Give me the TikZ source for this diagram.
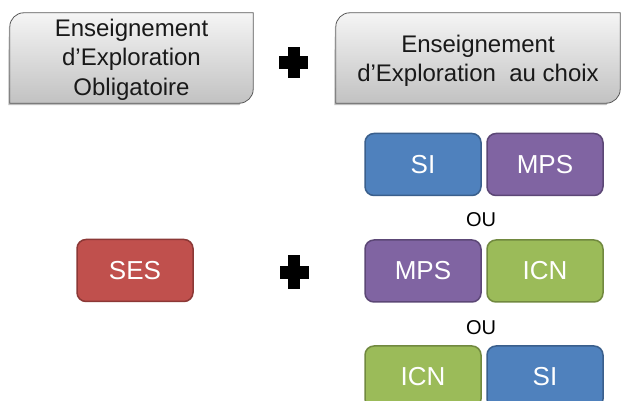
\documentclass[tikz,border=0pt]{standalone}
\usepackage{fontspec}
\setmainfont{Liberation Sans}
\definecolor{siblue}{HTML}{4F81BD}\definecolor{sibd}{HTML}{3A5F8C}
\definecolor{mpsp}{HTML}{8064A2}\definecolor{mpsd}{HTML}{5C4776}
\definecolor{icng}{HTML}{9BBB59}\definecolor{icnd}{HTML}{71893F}
\definecolor{sesr}{HTML}{C0504D}\definecolor{sesd}{HTML}{8C3836}
\begin{document}
\begin{tikzpicture}[x=1pt,y=1pt,
  headbox/.style={minimum height=90pt, inner sep=0pt, align=center, font=\fontsize{24}{29.5}\selectfont, text=black!90},
  colbox/.style={rounded corners=9pt, line width=1.5pt, minimum width=116pt, minimum height=62pt, inner sep=0pt, text=white, font=\fontsize{26}{30}\selectfont},
  si/.style={colbox, fill=siblue, draw=sibd},
  mps/.style={colbox, fill=mpsp, draw=mpsd},
  icn/.style={colbox, fill=icng, draw=icnd},
  ses/.style={colbox, fill=sesr, draw=sesd},
  oulabel/.style={font=\fontsize{20}{24}\selectfont, text=black},
  plussign/.style={fill=black}
]
\useasboundingbox (0,0) rectangle (622,401);
\fill[white] (0,0) rectangle (622,401);

% header boxes (nodes for text; shapes drawn from their anchors)
\node[headbox, minimum width=243pt] (obl) at (131.5,343) {};
\node[headbox, minimum width=284pt] (cho) at (478,343) {};
\foreach \n in {obl,cho}{
  \fill[black!50, opacity=0.5]
    ([shift={(-1.5pt,-14pt)}]\n.north west) -- ([shift={(-1.5pt,-2pt)}]\n.south west)
    -- ([shift={(-14pt,-2pt)}]\n.south east) -- ([yshift=14pt]\n.south east) -- (\n.south west) -- cycle;
  \shade[top color=white!96!black, bottom color=black!24, draw=black!65, line width=0.8pt]
    ([yshift=-14pt]\n.north west) arc[start angle=180,end angle=90,radius=14pt]
    -- (\n.north east) -- ([yshift=14pt]\n.south east)
    arc[start angle=0,end angle=-90,radius=14pt] -- (\n.south west) -- cycle;
}
\node[headbox] at ([yshift=-1.6pt]obl.center) {Enseignement\\d’Exploration\\Obligatoire};
\node[headbox, font=\fontsize{24}{28.5}\selectfont] at ([yshift=-2.7pt]cho.center) {Enseignement\\d’Exploration\ \ au choix};

% plus signs
\node (p1) at (293.5,338.5) {};
\node (p2) at (294,128.5) {};
\foreach \p/\w/\h in {p1/14.3/15.3,p2/14.5/17}{
  \fill[plussign] ([shift={(-\w pt,-6.4pt)}]\p.center) rectangle ([shift={(\w pt,6.4pt)}]\p.center);
  \fill[plussign] ([shift={(-6pt,-\h pt)}]\p.center) rectangle ([shift={(6pt,\h pt)}]\p.center);
}

% SES
\node[ses] (ses) at (135,130.5) {SES};

% choices
\node[si]  (a1) at (423,236.5) {SI};
\node[mps] (b1) at (545,236.5) {MPS};
\node[oulabel] (ou1) at (481,181) {OU};
\node[mps] (a2) at (423,130) {MPS};
\node[icn] (b2) at (545,130) {ICN};
\node[oulabel] (ou2) at (481,73) {OU};
\node[icn] (a3) at (423,24) {ICN};
\node[si]  (b3) at (545,24) {SI};
\end{tikzpicture}
\end{document}
